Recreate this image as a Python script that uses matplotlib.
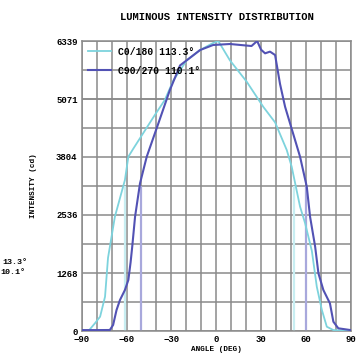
import matplotlib.pyplot as plt
import numpy as np

# C0/180 curve
c0_ang = [-90, -85, -81, -77.7, -74.4, -72.4, -67.8, -61.1, -58.8, -55.4, -41.1, -34.4,
          -28.7, -19.8, -10.8, -2.1, 1.4, 9.2, 20.4, 31.5, 39.4, 47.2, 50.5, 56.1,
          59.5, 64.0, 67.3, 70.7, 74.0, 78.4, 85, 90]
c0_val = [0, 20, 175, 313, 750, 1600, 2499, 3300, 3810, 3990, 4721, 5050,
          5477, 5915, 6142, 6296, 6339, 5915, 5450, 4900, 4560, 3956, 3592, 2718,
          2354, 1750, 969, 459, 94, 20, 10, 10]

# C90/270 curve
c90_ang = [-90, -80, -71.2, -69.0, -66.7, -64.4, -61.1, -58.8, -57.3, -56.2, -54.3, -51.0,
           -46.5, -38.7, -31.0, -24.2, -10.8, -2.1, 9.2, 23.6, 27.4, 30.0, 32.7, 36.0,
           39.4, 42.7, 46.1, 49.4, 56.1, 60.6, 62.8, 66.2, 68.4, 71.7, 76.1, 78.4,
           81.7, 90]
c90_val = [20, 20, 22, 131, 459, 678, 896, 1115, 1500, 1843, 2500, 3227,
           3810, 4540, 5268, 5806, 6142, 6252, 6274, 6230, 6339, 6150, 6070, 6107,
           6033, 5400, 4900, 4540, 3810, 3154, 2499, 1843, 1261, 896, 605, 203,
           59, 20]

y_ticks = [0, 1268, 2536, 3804, 5071, 6339]
x_ticks = [-90, -60, -30, 0, 30, 60, 90]
beam_c0 = [-61.3, 52.0]
beam_c90 = [-50.1, 60.0]
labels = ['C0/180 113.3°', 'C90/270 110.1°']
cut_labels = ['13.3°', '10.1°']  # visible ends of a legend cut by the left edge

cyan = '#7dd3dd'
purple = '#5252b4'
mono = 'Liberation Mono'

fig = plt.figure(figsize=(3.64, 3.58), dpi=100)
ax = fig.add_axes([0.2245, 0.0754, 0.739, 0.81])

# beam angle markers up to half max
half = 6339 / 2
ax.vlines(beam_c0, 0, half, color='#c8eef2', lw=1.6, zorder=1)
ax.vlines(beam_c90, 0, half, color='#a8a8dc', lw=1.6, zorder=1)

ax.plot(c0_ang, c0_val, color=cyan, lw=1.3, label=labels[0], zorder=3)
ax.plot(c90_ang, c90_val, color=purple, lw=1.5, label=labels[1], zorder=3)

ax.set_xlim(-90, 90)
ax.set_ylim(0, 6339)
ax.set_xticks(x_ticks)
ax.set_xticks(np.arange(-90, 91, 10), minor=True)
ax.set_yticks(y_ticks)
ax.set_yticks(np.arange(0, 6340, 634), minor=True)
ax.grid(True, which='both', color='#8a8a8a', lw=1.1, zorder=0)
ax.set_axisbelow(True)
ax.tick_params(which='both', length=0, pad=3)
for s in ax.spines.values():
    s.set_color('#8a8a8a')
    s.set_linewidth(1.1)
for t in ax.get_xticklabels() + ax.get_yticklabels():
    t.set_fontfamily(mono)
    t.set_fontweight('bold')
    t.set_fontsize(6.5)

ax.set_xlabel('ANGLE (DEG)', fontfamily=mono, fontweight='bold', fontsize=5.5, labelpad=1)
ax.set_ylabel('INTENSITY (cd)', fontfamily=mono, fontweight='bold', fontsize=5.5, labelpad=14)
fig.text(0.595, 0.953, 'LUMINOUS INTENSITY DISTRIBUTION', ha='center', va='center',
         fontfamily=mono, fontweight='bold', fontsize=7.6)

ax.legend(loc='upper left', frameon=False, handlelength=2.4, handletextpad=0.7,
          labelspacing=0.9, borderaxespad=0.2, bbox_to_anchor=(0.0, 1.0),
          prop={'family': mono, 'weight': 'bold', 'size': 7})

fig.text(2 / 364, 1 - 263 / 358, cut_labels[0], ha='left', va='center',
         fontfamily=mono, fontweight='bold', fontsize=6)
fig.text(0 / 364, 1 - 272 / 358, cut_labels[1], ha='left', va='center',
         fontfamily=mono, fontweight='bold', fontsize=6)

fig.savefig('out.png', dpi=100)
